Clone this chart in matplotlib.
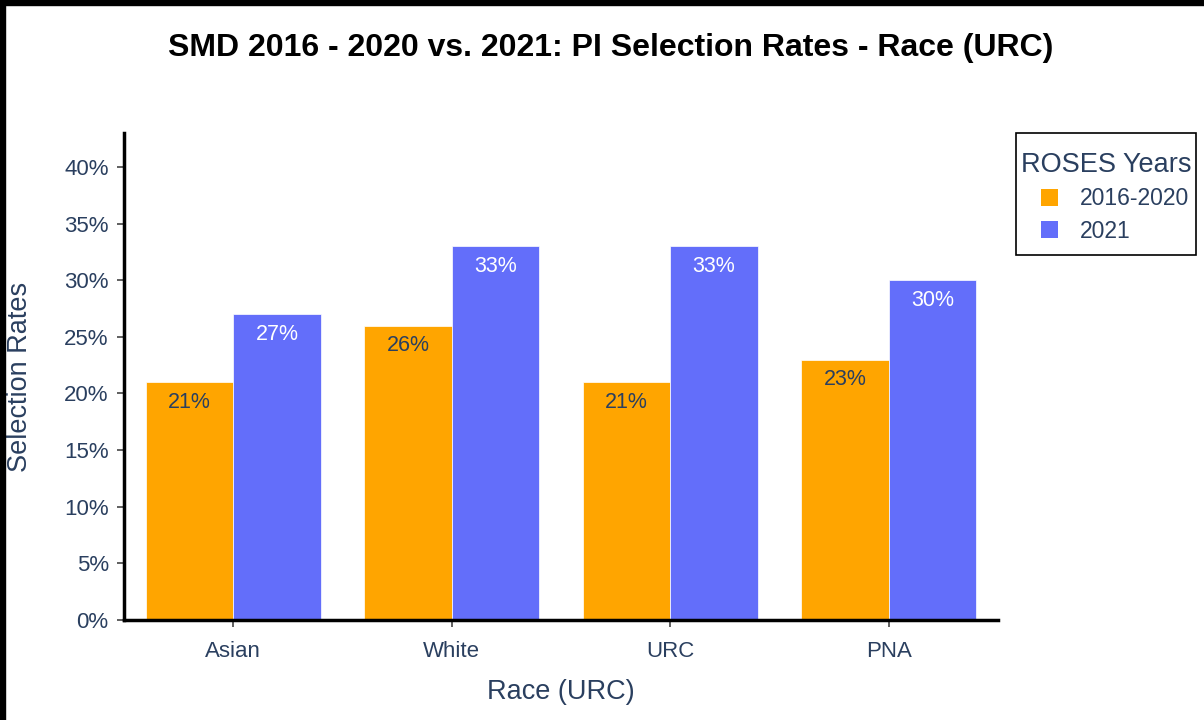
import matplotlib.pyplot as plt
from matplotlib.patches import Patch, Rectangle
from matplotlib.legend_handler import HandlerPatch
import numpy as np

categories = ['Asian', 'White', 'URC', 'PNA']
rates_2016_2020 = [0.21, 0.26, 0.21, 0.23]
rates_2021 = [0.27, 0.33, 0.33, 0.30]
yticks = [0, 0.05, 0.10, 0.15, 0.20, 0.25, 0.30, 0.35, 0.40]

ORANGE = '#FFA500'
BLUE = '#636EFA'
TXT = '#2a3f5f'

plt.rcParams['font.family'] = ['Liberation Sans', 'DejaVu Sans']

W, H = 1204, 720
fig = plt.figure(figsize=(W / 100, H / 100), dpi=100)
ax = fig.add_axes([124 / W, 1 - 620 / H, 874 / W, 487 / H])

x = np.arange(len(categories))
w = 0.4
b1 = ax.bar(x - w / 2, rates_2016_2020, w, color=ORANGE, edgecolor='white', linewidth=0.5)
b2 = ax.bar(x + w / 2, rates_2021, w, color=BLUE, edgecolor='white', linewidth=0.5)

for bars, col in ((b1, TXT), (b2, 'white')):
    for r in bars:
        h = r.get_height()
        ax.annotate(f'{h:.0%}', (r.get_x() + r.get_width() / 2, h),
                    xytext=(0, -7), textcoords='offset points',
                    ha='center', va='top', fontsize=15.5, color=col)

ax.set_xlim(-0.5, 3.5)
ax.set_ylim(0, 0.43)
ax.set_xticks(x)
ax.set_xticklabels(categories)
ax.set_yticks(yticks)
ax.set_yticklabels([f'{t:.0%}' for t in yticks])
ax.tick_params(axis='both', labelsize=16, colors='#444444', labelcolor=TXT,
               length=5, width=1.2, direction='out')
ax.tick_params(axis='x', pad=10)
ax.tick_params(axis='y', pad=6)

for s in ('top', 'right'):
    ax.spines[s].set_visible(False)
for s in ('left', 'bottom'):
    ax.spines[s].set_linewidth(2.5)
    ax.spines[s].set_color('black')

ax.set_ylabel('Selection Rates', fontsize=19.5, color=TXT, va='center')
ax.yaxis.set_label_coords((20 - 124) / 874, 0.5)
ax.set_xlabel('Race (URC)', fontsize=19.5, color=TXT, va='center')
ax.xaxis.set_label_coords(0.5, (620 - 692) / 487)

fig.suptitle('SMD 2016 - 2020 vs. 2021: PI Selection Rates - Race (URC)',
             x=611 / W, y=1 - 48 / H, va='center', fontsize=23, fontweight='bold')


def square_patch(legend, orig_handle, xdescent, ydescent, width, height, fontsize):
    size = 17 * 72 / 100
    return Rectangle((-xdescent + width - size, -ydescent + (height - size) / 2), size, size)


handles = [Patch(facecolor=ORANGE, label='2016-2020'), Patch(facecolor=BLUE, label='2021')]
leg = fig.legend(handles=handles, title='ROSES Years', loc='upper left',
                 bbox_to_anchor=(1016 / W, 1 - 147 / H), fontsize=16.5,
                 title_fontsize=19.5, frameon=False,
                 handlelength=1.55, handleheight=0.75, handletextpad=0.92,
                 borderpad=0.2, labelspacing=0.42, borderaxespad=0,
                 handler_map={Patch: HandlerPatch(patch_func=square_patch)})
for t in leg.get_texts():
    t.set_color(TXT)
leg.get_title().set_color(TXT)

# legend box
fig.patches.append(Rectangle((1016 / W, 1 - 255 / H), 180 / W, 122 / H,
                             transform=fig.transFigure, facecolor='none',
                             edgecolor='black', linewidth=1.2))

# dark screenshot edges at top and left
fig.patches.append(Rectangle((0, 1 - 5 / H), 1, 5 / H, transform=fig.transFigure,
                             color='black', zorder=10))
fig.patches.append(Rectangle((0, 0), 5 / W, 1, transform=fig.transFigure,
                             color='black', zorder=10))

fig.savefig('out.png', dpi=100)
